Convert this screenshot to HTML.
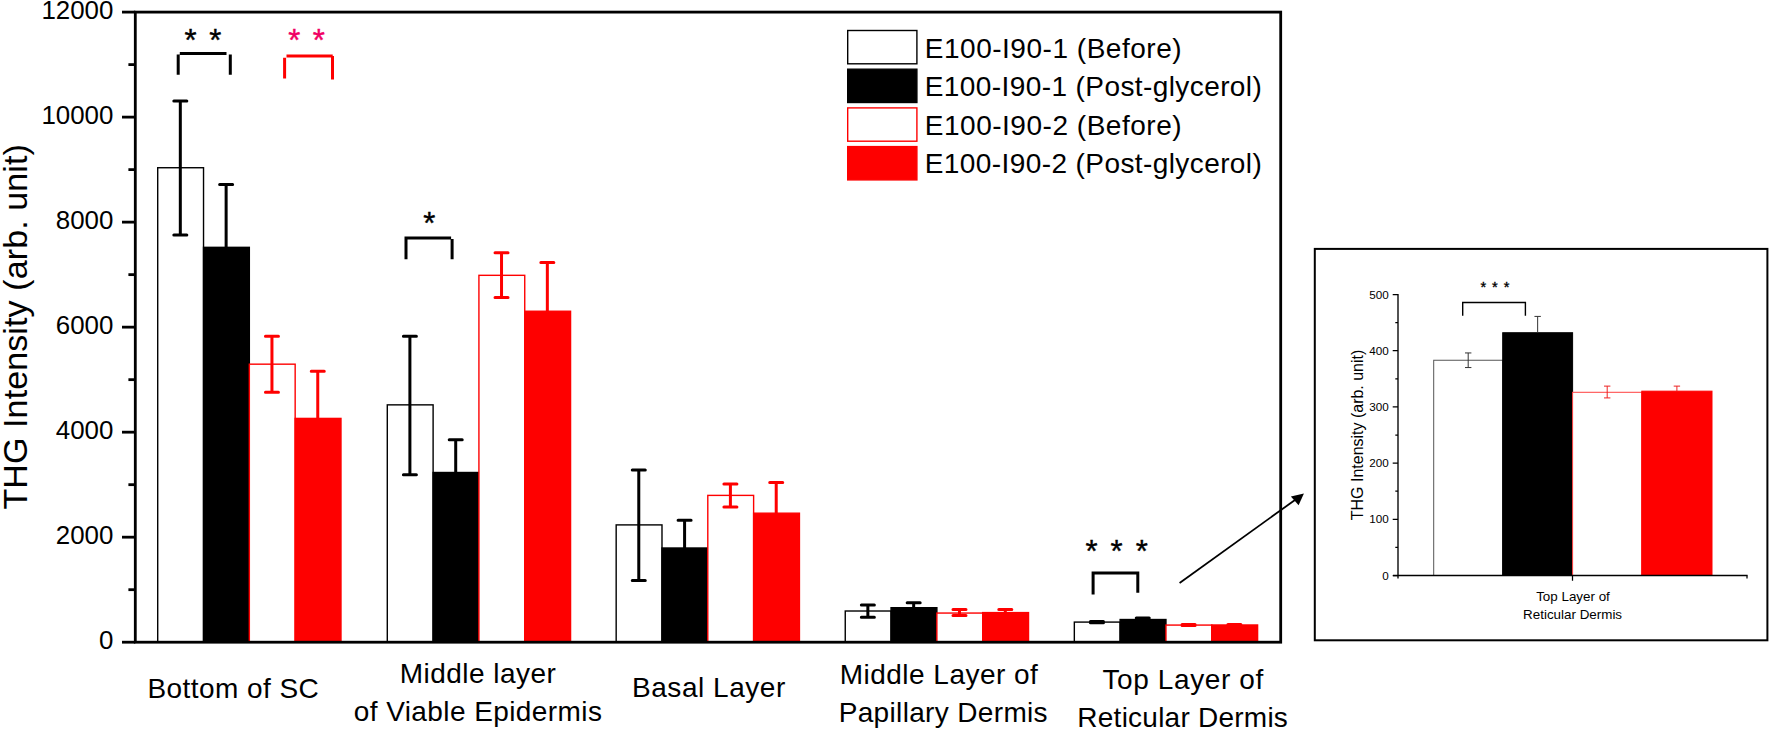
<!DOCTYPE html>
<html lang="en"><head><meta charset="utf-8"><title>THG Intensity</title>
<style>html,body{margin:0;padding:0;background:#fff}svg{display:block}text{font-family:"Liberation Sans", sans-serif;fill:#000}</style>
</head><body>
<svg width="1769" height="730" viewBox="0 0 1769 730">
<rect x="0" y="0" width="1769" height="730" fill="#ffffff"/>
<g id="bars">
<rect x="157.71" y="167.73" width="45.82" height="474.47" fill="#ffffff" stroke="#000000" stroke-width="1.4"/>
<rect x="203.52" y="247.34" width="45.82" height="394.86" fill="#000000" stroke="#000000" stroke-width="1.4"/>
<rect x="249.34" y="364.17" width="45.82" height="278.03" fill="#ffffff" stroke="#fe0000" stroke-width="1.4"/>
<rect x="295.16" y="418.41" width="45.82" height="223.79" fill="#fe0000" stroke="#fe0000" stroke-width="1.4"/>
<rect x="387.29" y="404.86" width="45.82" height="237.34" fill="#ffffff" stroke="#000000" stroke-width="1.4"/>
<rect x="433.10" y="472.49" width="45.82" height="169.71" fill="#000000" stroke="#000000" stroke-width="1.4"/>
<rect x="478.92" y="275.32" width="45.82" height="366.88" fill="#ffffff" stroke="#fe0000" stroke-width="1.4"/>
<rect x="524.74" y="311.24" width="45.82" height="330.96" fill="#fe0000" stroke="#fe0000" stroke-width="1.4"/>
<rect x="616.17" y="524.90" width="45.82" height="117.30" fill="#ffffff" stroke="#000000" stroke-width="1.4"/>
<rect x="661.98" y="548.00" width="45.82" height="94.20" fill="#000000" stroke="#000000" stroke-width="1.4"/>
<rect x="707.80" y="495.39" width="45.82" height="146.81" fill="#ffffff" stroke="#fe0000" stroke-width="1.4"/>
<rect x="753.62" y="513.19" width="45.82" height="129.01" fill="#fe0000" stroke="#fe0000" stroke-width="1.4"/>
<rect x="845.25" y="611.01" width="45.82" height="31.19" fill="#ffffff" stroke="#000000" stroke-width="1.4"/>
<rect x="891.06" y="607.70" width="45.82" height="34.50" fill="#000000" stroke="#000000" stroke-width="1.4"/>
<rect x="936.88" y="613.06" width="45.82" height="29.14" fill="#ffffff" stroke="#fe0000" stroke-width="1.4"/>
<rect x="982.70" y="612.59" width="45.82" height="29.61" fill="#fe0000" stroke="#fe0000" stroke-width="1.4"/>
<rect x="1074.33" y="622.09" width="45.82" height="20.11" fill="#ffffff" stroke="#000000" stroke-width="1.4"/>
<rect x="1120.14" y="619.52" width="45.82" height="22.68" fill="#000000" stroke="#000000" stroke-width="1.4"/>
<rect x="1165.96" y="625.08" width="45.82" height="17.12" fill="#ffffff" stroke="#fe0000" stroke-width="1.4"/>
<rect x="1211.78" y="624.98" width="45.82" height="17.22" fill="#fe0000" stroke="#fe0000" stroke-width="1.4"/>
</g>
<g id="errs" fill="none" stroke-width="3" stroke-linecap="round">
<path stroke="#000000" d="M180.32 101.10V234.95 M173.82 101.10h13 M173.82 234.95h13"/>
<path stroke="#000000" d="M226.13 184.54V247.34 M219.63 184.54h13"/>
<path stroke="#fe0000" d="M271.95 336.34V392.16 M265.45 336.34h13 M265.45 392.16h13"/>
<path stroke="#fe0000" d="M317.76 371.26V418.41 M311.26 371.26h13"/>
<path stroke="#000000" d="M409.90 336.13V474.86 M403.40 336.13h13 M403.40 474.86h13"/>
<path stroke="#000000" d="M455.71 439.78V472.49 M449.21 439.78h13"/>
<path stroke="#fe0000" d="M501.53 252.75V297.43 M495.03 252.75h13 M495.03 297.43h13"/>
<path stroke="#fe0000" d="M547.34 262.56V311.24 M540.84 262.56h13"/>
<path stroke="#000000" d="M638.78 469.97V580.61 M632.28 469.97h13 M632.28 580.61h13"/>
<path stroke="#000000" d="M684.59 520.17V548.00 M678.09 520.17h13"/>
<path stroke="#fe0000" d="M730.41 483.99V506.99 M723.91 483.99h13 M723.91 506.99h13"/>
<path stroke="#fe0000" d="M776.22 482.47V513.19 M769.72 482.47h13"/>
<path stroke="#000000" d="M867.86 604.97V617.31 M861.36 604.97h13 M861.36 617.31h13"/>
<path stroke="#000000" d="M913.67 602.71V607.70 M907.17 602.71h13"/>
<path stroke="#fe0000" d="M959.49 609.59V615.42 M952.99 609.59h13 M952.99 615.42h13"/>
<path stroke="#fe0000" d="M1005.30 609.59V612.59 M998.80 609.59h13"/>
<path stroke="#000000" d="M1096.94 621.41V622.77 M1090.44 621.41h13 M1090.44 622.77h13"/>
<path stroke="#000000" d="M1142.75 617.99V619.52 M1136.25 617.99h13"/>
<path stroke="#fe0000" d="M1188.57 624.50V625.61 M1182.07 624.50h13 M1182.07 625.61h13"/>
<path stroke="#fe0000" d="M1234.38 624.50V624.98 M1227.88 624.50h13"/>
</g>
<g id="axes" stroke="#000" stroke-width="2.8" fill="none">
<rect x="135.30" y="12.10" width="1145.40" height="630.10"/>
<path d="M122.00 642.20H135.30"/>
<path d="M128.40 589.69H135.30"/>
<path d="M122.00 537.18H135.30"/>
<path d="M128.40 484.68H135.30"/>
<path d="M122.00 432.17H135.30"/>
<path d="M128.40 379.66H135.30"/>
<path d="M122.00 327.15H135.30"/>
<path d="M128.40 274.64H135.30"/>
<path d="M122.00 222.13H135.30"/>
<path d="M128.40 169.62H135.30"/>
<path d="M122.00 117.12H135.30"/>
<path d="M128.40 64.61H135.30"/>
<path d="M122.00 12.10H135.30"/>
</g>
<g id="yticks" font-size="25.9" text-anchor="end">
<text x="113.4" y="648.80">0</text>
<text x="113.4" y="543.78">2000</text>
<text x="113.4" y="438.77">4000</text>
<text x="113.4" y="333.75">6000</text>
<text x="113.4" y="228.73">8000</text>
<text x="113.4" y="123.72">10000</text>
<text x="113.4" y="18.70">12000</text>
</g>
<text id="ytitle" font-size="34" transform="translate(27.4 509.6) rotate(-90)" textLength="365.5" lengthAdjust="spacing">THG Intensity (arb. unit)</text>
<g id="xlabels">
<text x="147.40" y="698.20" font-size="28.00" style="letter-spacing:0.44px;">Bottom of SC</text>
<text x="399.85" y="683.30" font-size="28.00" style="letter-spacing:0.45px;">Middle layer</text>
<text x="353.80" y="721.30" font-size="28.00" style="letter-spacing:0.41px;">of Viable Epidermis</text>
<text x="632.05" y="697.00" font-size="28.00" style="letter-spacing:0.54px;">Basal Layer</text>
<text x="839.80" y="683.50" font-size="28.00" style="letter-spacing:0.47px;">Middle Layer of</text>
<text x="838.70" y="721.50" font-size="28.00" style="letter-spacing:0.34px;">Papillary Dermis</text>
<text x="1102.40" y="688.80" font-size="28.00" style="letter-spacing:0.62px;">Top Layer of</text>
<text x="1077.35" y="727.00" font-size="28.00" style="letter-spacing:0.24px;">Reticular Dermis</text>
</g>
<g id="legend">
<rect x="847.7" y="30.50" width="69.2" height="33.3" fill="#ffffff" stroke="#000000" stroke-width="1.4"/>
<text x="924.75" y="57.60" font-size="28.00" style="letter-spacing:0.52px;">E100-I90-1 (Before)</text>
<rect x="847.7" y="69.20" width="69.2" height="33.3" fill="#000000" stroke="#000000" stroke-width="1.4"/>
<text x="924.75" y="96.20" font-size="28.00" style="letter-spacing:0.41px;">E100-I90-1 (Post-glycerol)</text>
<rect x="847.7" y="107.90" width="69.2" height="33.3" fill="#ffffff" stroke="#fe0000" stroke-width="1.4"/>
<text x="924.75" y="134.80" font-size="28.00" style="letter-spacing:0.52px;">E100-I90-2 (Before)</text>
<rect x="847.7" y="146.60" width="69.2" height="33.3" fill="#fe0000" stroke="#fe0000" stroke-width="1.4"/>
<text x="924.75" y="173.40" font-size="28.00" style="letter-spacing:0.41px;">E100-I90-2 (Post-glycerol)</text>
</g>
<g id="sig" fill="none" stroke-width="3">
<path stroke="#000" d="M179.8 53.5H226.5 M178.2 54.4V74.7 M230.3 54.4V74.7"/>
<path stroke="#fe0000" d="M286.5 55.9H332.7 M284.6 57.8V78.5 M332.5 56V79.5"/>
<path stroke="#000" d="M405 238H451.1 M406 236.5V259.2 M452.1 239V259.2"/>
<path stroke="#000" d="M1092 573.1H1139 M1093.1 571.6V594.4 M1137.8 571.6V592.7"/>
</g>
<g id="stars" font-size="31" text-anchor="middle" stroke="#000" stroke-width="0.45" style="word-spacing:3.9px">
<text x="202.9" y="50.8">* *</text>
<text x="306.6" y="51.2" style="fill:#f00064;stroke:#f00064">* *</text>
<text x="429.2" y="233.9">*</text>
<text x="1116.6" y="561.5" style="word-spacing:4.4px">* * *</text>
</g>
<g id="arrow">
<path d="M1179.6 583.1L1296 499.2" stroke="#000" stroke-width="1.8" fill="none"/>
<path d="M1303.9 493.5L1290.9 496.4L1298.6 505.3Z" fill="#000"/>
</g>
<g id="inset">
<rect x="1314.8" y="248.9" width="452.60" height="391.40" fill="#fff" stroke="#000" stroke-width="2"/>
<rect x="1433.70" y="360.25" width="69.00" height="215.25" fill="#ffffff" stroke="#555555" stroke-width="1"/>
<rect x="1502.70" y="332.72" width="69.90" height="242.78" fill="#000000" stroke="#000000" stroke-width="1"/>
<rect x="1572.60" y="392.29" width="69.20" height="183.21" fill="#ffffff" stroke="#ff4040" stroke-width="1"/>
<rect x="1641.80" y="391.16" width="70.20" height="184.34" fill="#fe0000" stroke="#fe0000" stroke-width="1"/>
<path fill="none" stroke="#333333" stroke-width="1" d="M1468.20 352.95V367.56 M1465.00 352.95h6.4 M1465.00 367.56h6.4"/>
<path fill="none" stroke="#333333" stroke-width="1" d="M1537.65 316.42V332.72 M1534.45 316.42h6.4"/>
<path fill="none" stroke="#ee2222" stroke-width="1" d="M1607.20 386.11V397.91 M1604.00 386.11h6.4 M1604.00 397.91h6.4"/>
<path fill="none" stroke="#ee2222" stroke-width="1" d="M1676.90 386.11V391.16 M1673.70 386.11h6.4"/>
<path fill="none" stroke="#000" stroke-width="1.35" d="M1398.00 293.90V578.50 M1393.00 575.50H1747.60"/>
<path fill="none" stroke="#000" stroke-width="1.25" d="M1392.70 575.50H1398.00 M1395.30 547.40H1398.00 M1392.70 519.30H1398.00 M1395.30 491.20H1398.00 M1392.70 463.10H1398.00 M1395.30 435.00H1398.00 M1392.70 406.90H1398.00 M1395.30 378.80H1398.00 M1392.70 350.70H1398.00 M1395.30 322.60H1398.00 M1392.70 294.50H1398.00 M1572.50 575.50V580.70 M1747.00 575.50V578.50"/>
<g font-size="11.7" text-anchor="end">
<text x="1388.8" y="579.60">0</text>
<text x="1388.8" y="523.40">100</text>
<text x="1388.8" y="467.20">200</text>
<text x="1388.8" y="411.00">300</text>
<text x="1388.8" y="354.80">400</text>
<text x="1388.8" y="298.60">500</text>
</g>
<text font-size="16" transform="translate(1362.6 520.2) rotate(-90)" textLength="170.5" lengthAdjust="spacing">THG Intensity (arb. unit)</text>
<g font-size="13.4" text-anchor="middle">
<text x="1573.0" y="600.8">Top Layer of</text>
<text x="1572.6" y="618.8">Reticular Dermis</text>
</g>
<path fill="none" stroke="#000" stroke-width="1.4" d="M1462.7 315.8V302.5H1525.4V315.7"/>
<text font-size="14.6" text-anchor="middle" x="1494.9" y="292.0" stroke="#000" stroke-width="0.35" style="word-spacing:1.86px">* * *</text>
</g>
</svg>
</body></html>
